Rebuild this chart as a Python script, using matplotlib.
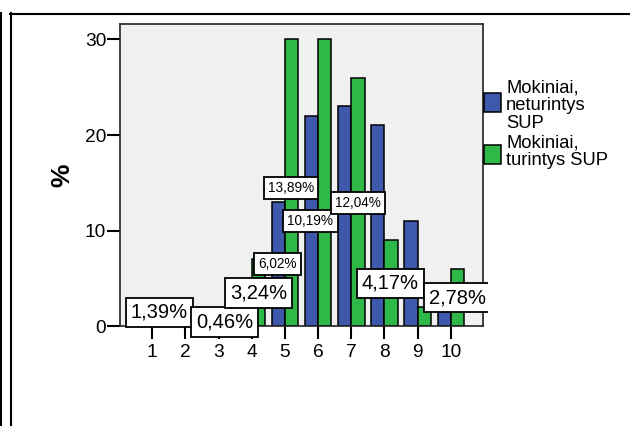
import matplotlib
matplotlib.use("Agg")
import matplotlib.pyplot as plt
import numpy as np
from matplotlib.lines import Line2D
from matplotlib.patches import Rectangle
from matplotlib.transforms import Bbox, TransformedBbox

plt.rcParams['font.family'] = ['Liberation Sans', 'DejaVu Sans']

# data
scores = [1, 2, 3, 4, 5, 6, 7, 8, 9, 10]
no_sup = [1, 0, 1, 3, 13, 22, 23, 21, 11, 3]     # Mokiniai, neturintys SUP
with_sup = [0, 0, 0, 7, 30, 30, 26, 9, 2, 6]     # Mokiniai, turintys SUP
series_names = ["Mokiniai,\nneturintys\nSUP", "Mokiniai,\nturintys SUP"]

# percent labels (text, x, y, big font?)
label_text = ["1,39%", "0,46%", "3,24%", "6,02%", "13,89%", "10,19%", "12,04%", "4,17%", "2,78%"]
label_x = [1.22, 3.18, 4.20, 4.77, 5.18, 5.77, 7.20, 8.18, 10.2]
label_y = [1.5, 0.46, 3.49, 6.52, 14.5, 11.0, 12.9, 4.53, 3.0]
label_big = [True, True, True, False, False, False, False, True, True]

blue = '#3E58AC'
green = '#2EB848'

fig = plt.figure(figsize=(6.3, 4.26), dpi=100)
ax = fig.add_axes([120 / 630, 1 - 326.4 / 426, 363 / 630, 302.4 / 426])
ax.set_facecolor('#F0F0F0')

x = np.array(scores)
w = 0.4
ax.bar(x - w / 2, no_sup, width=w, color=blue, edgecolor='black', linewidth=1.1, zorder=2)
ax.bar(x + w / 2, with_sup, width=w, color=green, edgecolor='black', linewidth=1.1, zorder=2)

ax.set_xlim(0.03, 10.97)
ax.set_ylim(0, 31.6)
ax.set_xticks(scores)
ax.set_yticks([0, 10, 20, 30])
ax.tick_params(axis='both', length=9.4, width=1.5, labelsize=13.8, colors='black')
ax.tick_params(axis='y', pad=0.5)
ax.tick_params(axis='x', pad=3)
for s in ax.spines.values():
    s.set_color('#222222')
    s.set_linewidth(1.2)

ax.set_ylabel('%', fontsize=19, fontweight='bold', va='center')
ax.yaxis.set_label_coords(-0.16, 0.5)

clip = TransformedBbox(Bbox([[0, 0], [487.5 / 630, 1]]), fig.transFigure)
for t, lx, ly, big in zip(label_text, label_x, label_y, label_big):
    fs = 14.5 if big else 9.8
    pad = 0.25 if big else 0.3
    txt = ax.text(lx, ly, t, fontsize=fs, ha='center', va='center', zorder=5,
                  clip_on=False,
                  bbox=dict(boxstyle='square,pad=%s' % pad, facecolor='white',
                            edgecolor='black', linewidth=1.3))
    if t == "2,78%":
        txt.set_clip_on(True)
        txt.set_clip_box(clip)

# legend drawn by hand
leg_y = [102, 154]
leg_text_y = [106, 151.5]
for color, name, py, ty in zip([blue, green], series_names, leg_y, leg_text_y):
    fig.add_artist(Rectangle((483.5 / 630, 1 - (py + 9.5) / 426), 17 / 630, 19 / 426,
                             transform=fig.transFigure, facecolor=color,
                             edgecolor='black', linewidth=1.1))
    fig.text(506 / 630, 1 - ty / 426, name, fontsize=13.2, ha='left', va='center',
             linespacing=1.05)

# outer frame lines
fig.add_artist(Line2D([10 / 630, 1], [1 - 13.7 / 426] * 2, transform=fig.transFigure,
                      color='black', linewidth=1.5))
fig.add_artist(Line2D([1.3 / 630] * 2, [0, 1 - 12.7 / 426], transform=fig.transFigure,
                      color='black', linewidth=1.5))
fig.add_artist(Line2D([11 / 630] * 2, [0, 1 - 12.7 / 426], transform=fig.transFigure,
                      color='black', linewidth=1.5))

fig.savefig('out.png', dpi=100)
